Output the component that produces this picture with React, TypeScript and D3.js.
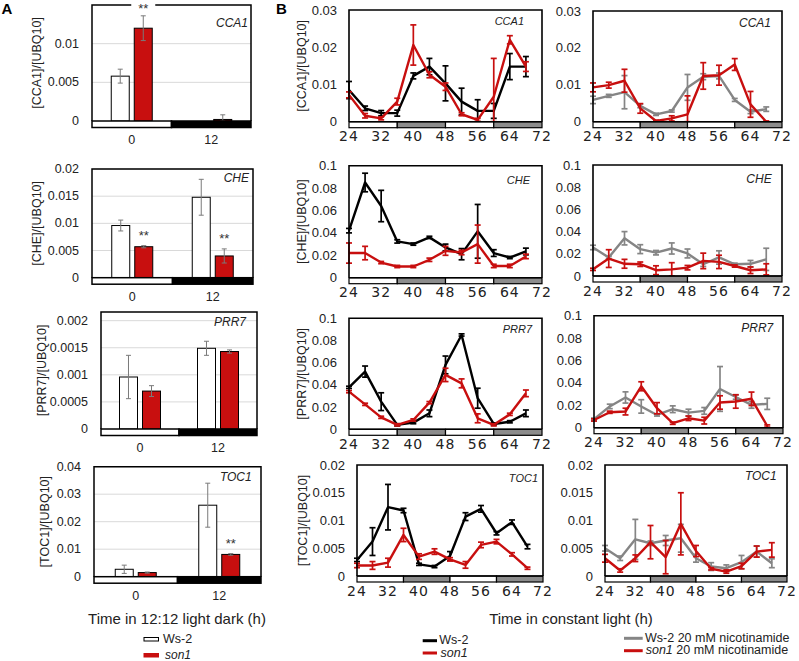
import * as d3 from "d3";

const FONT = "Liberation Sans, Arial, Helvetica, sans-serif";
const RED = "#c80f0f";
const GREY = "#858585";

// ---- panel A: 12:12 light dark, ZT0 / ZT12 ----
const ldTimes = ["0", "12"];

const cca1LdWs = [0.0058, 0.0];
const cca1LdWsErr = [0.0009, 0];
const cca1LdSon = [0.012, 0.0002];
const cca1LdSonErr = [0.0016, 0.0006];

const cheLdWs = [0.0096, 0.0148];
const cheLdWsErr = [0.001, 0.0033];
const cheLdSon = [0.0057, 0.004];
const cheLdSonErr = [0.0002, 0.0013];

const prr7LdWs = [0.00096, 0.00149];
const prr7LdWsErr = [0.0004, 0.00013];
const prr7LdSon = [0.0007, 0.00143];
const prr7LdSonErr = [0.0001, 0.00003];

const toc1LdWs = [0.0027, 0.026];
const toc1LdWsErr = [0.0015, 0.008];
const toc1LdSon = [0.0015, 0.0081];
const toc1LdSonErr = [0.0002, 0.0003];

// ** marks on son1 bars
const cca1Stars = [true, false];
const cheStars = [true, true];
const prr7Stars = [false, false];
const toc1Stars = [false, true];

const cca1LdTicks = [0, 0.005, 0.01];
const cheLdTicks = [0, 0.005, 0.01, 0.015, 0.02];
const prr7LdTicks = [0, 0.0005, 0.001, 0.0015, 0.002];
const toc1LdTicks = [0, 0.01, 0.02, 0.03, 0.04];

// ---- panel B: constant light ----
const hours = [24, 28, 32, 36, 40, 44, 48, 52, 56, 60, 64, 68];
const hourTicks = [24, 32, 40, 48, 56, 64, 72];
const llSegments = [
  { from: 24, to: 36, dark: false },
  { from: 36, to: 48, dark: true },
  { from: 48, to: 60, dark: false },
  { from: 60, to: 72, dark: true },
];

const cca1Ws = [0.0085, 0.0036, 0.0023, 0.0023, 0.0123, 0.0148, 0.0103, 0.0054, 0.0029, 0.0029, 0.0148, 0.0148];
const cca1WsErr = [0.0023, 0.0006, 0.0007, 0.0008, 0.0008, 0.0022, 0.0047, 0.0036, 0.003, 0.002, 0.0035, 0.0027];
const cca1Son = [0.0072, 0.0016, 0.0009, 0.0054, 0.0206, 0.0126, 0.0094, 0.002, 0.0005, 0.0067, 0.022, 0.0148];
const cca1SonErr = [0.0008, 0.0006, 0.0004, 0.0009, 0.0054, 0.0008, 0.001, 0.0004, 0.0004, 0.0103, 0.0011, 0.0013];
const cca1WsNam = [0.0059, 0.007, 0.008, 0.0043, 0.002, 0.0029, 0.0093, 0.0122, 0.0124, 0.0059, 0.0027, 0.0034];
const cca1WsNamErr = [0.001, 0.0004, 0.0045, 0.0005, 0.0003, 0.0003, 0.0035, 0.0008, 0.0008, 0.0004, 0.0005, 0.0006];
const cca1SonNam = [0.0093, 0.0099, 0.0111, 0.0036, 0.0002, 0.0009, 0.002, 0.0124, 0.0126, 0.0155, 0.0047, 0.0];
const cca1SonNamErr = [0.0012, 0.0008, 0.0031, 0.0013, 0.0002, 0.0007, 0.005, 0.0036, 0.0027, 0.0016, 0.0035, 0.0002];

const cheWs = [0.042, 0.085, 0.064, 0.0324, 0.03, 0.036, 0.027, 0.021, 0.0414, 0.022, 0.018, 0.0234];
const cheWsErr = [0.002, 0.0083, 0.014, 0.0015, 0.001, 0.001, 0.003, 0.005, 0.024, 0.003, 0.001, 0.003];
const cheSon = [0.022, 0.022, 0.0135, 0.01, 0.01, 0.016, 0.024, 0.0225, 0.03, 0.0105, 0.0105, 0.019];
const cheSonErr = [0.009, 0.006, 0.001, 0.001, 0.001, 0.0015, 0.004, 0.002, 0.017, 0.0015, 0.0015, 0.002];
const cheWsNam = [0.0257, 0.0167, 0.034, 0.0242, 0.021, 0.0248, 0.0203, 0.0106, 0.0167, 0.0106, 0.011, 0.015];
const cheWsNamErr = [0.002, 0.001, 0.006, 0.004, 0.002, 0.005, 0.004, 0.002, 0.006, 0.001, 0.003, 0.01];
const cheSonNam = [0.006, 0.0157, 0.011, 0.0106, 0.0052, 0.006, 0.0075, 0.0136, 0.0127, 0.009, 0.0052, 0.006];
const cheSonNamErr = [0.001, 0.008, 0.004, 0.002, 0.004, 0.006, 0.002, 0.007, 0.006, 0.001, 0.003, 0.005];

const prr7Ws = [0.0378, 0.052, 0.0249, 0.004, 0.006, 0.0144, 0.058, 0.085, 0.028, 0.0048, 0.0068, 0.0144];
const prr7WsErr = [0.001, 0.005, 0.008, 0.001, 0.001, 0.003, 0.008, 0.001, 0.009, 0.001, 0.001, 0.003];
const prr7Son = [0.0339, 0.0225, 0.0108, 0.004, 0.0084, 0.024, 0.049, 0.0414, 0.0099, 0.004, 0.0135, 0.0324];
const prr7SonErr = [0.001, 0.001, 0.001, 0.001, 0.001, 0.001, 0.006, 0.004, 0.004, 0.001, 0.001, 0.003];
const prr7WsNam = [0.0076, 0.019, 0.027, 0.019, 0.0114, 0.0165, 0.0135, 0.015, 0.0346, 0.0274, 0.0204, 0.0213];
const prr7WsNamErr = [0.001, 0.002, 0.005, 0.006, 0.001, 0.003, 0.003, 0.003, 0.02, 0.002, 0.003, 0.005];
const prr7SonNam = [0.0069, 0.0138, 0.0144, 0.037, 0.0174, 0.004, 0.0084, 0.0063, 0.0225, 0.0234, 0.0258, 0.0015];
const prr7SonNamErr = [0.001, 0.001, 0.003, 0.004, 0.005, 0.001, 0.002, 0.003, 0.006, 0.006, 0.006, 0.001];

const toc1Ws = [0.0029, 0.0062, 0.0124, 0.0118, 0.0021, 0.0017, 0.0036, 0.0107, 0.0121, 0.0077, 0.0097, 0.0053];
const toc1WsErr = [0.0003, 0.0025, 0.0041, 0.0004, 0.0002, 0.0002, 0.0008, 0.0007, 0.0006, 0.0003, 0.0004, 0.0004];
const toc1Son = [0.0019, 0.0019, 0.0024, 0.0074, 0.0035, 0.0044, 0.003, 0.002, 0.0056, 0.0062, 0.0039, 0.0014];
const toc1SonErr = [0.0004, 0.0007, 0.0008, 0.0012, 0.0005, 0.0005, 0.0003, 0.0006, 0.0005, 0.0004, 0.0003, 0.0002];
const toc1WsNam = [0.005, 0.0032, 0.0066, 0.0059, 0.0064, 0.0068, 0.0032, 0.0017, 0.0014, 0.0025, 0.0044, 0.0023];
const toc1WsNamErr = [0.0005, 0.0004, 0.0036, 0.0004, 0.0009, 0.0025, 0.0007, 0.0007, 0.0006, 0.0012, 0.001, 0.0008];
const toc1SonNam = [0.0032, 0.001, 0.0032, 0.0061, 0.0034, 0.0094, 0.0045, 0.0013, 0.0008, 0.0018, 0.0044, 0.0047];
const toc1SonNamErr = [0.0007, 0.0003, 0.0006, 0.003, 0.003, 0.0056, 0.001, 0.0002, 0.0003, 0.0005, 0.001, 0.0013];

const cca1LlTicks = [0, 0.01, 0.02, 0.03];
const wideLlTicks = [0, 0.02, 0.04, 0.06, 0.08, 0.1];
const toc1LlTicks = [0, 0.005, 0.01, 0.015, 0.02];

// panel tables (data + where each panel sits)
const barPanels = [
  { gene: "CCA1", ws: cca1LdWs, wsErr: cca1LdWsErr, son: cca1LdSon, sonErr: cca1LdSonErr, stars: cca1Stars, ticks: cca1LdTicks, max: 0.015,
    left: 92, right: 251, top: 5, zero: 121, titleX: 37, labelX: 248, labelY: 23, starTop: true },
  { gene: "CHE", ws: cheLdWs, wsErr: cheLdWsErr, son: cheLdSon, sonErr: cheLdSonErr, stars: cheStars, ticks: cheLdTicks, max: 0.02,
    left: 92, right: 253, top: 169, zero: 277.7, titleX: 37, labelX: 249, labelY: 178 },
  { gene: "PRR7", ws: prr7LdWs, wsErr: prr7LdWsErr, son: prr7LdSon, sonErr: prr7LdSonErr, stars: prr7Stars, ticks: prr7LdTicks, max: 0.00216,
    left: 101, right: 257, top: 312, zero: 429, titleX: 42, labelX: 246, labelY: 321.7 },
  { gene: "TOC1", ws: toc1LdWs, wsErr: toc1LdWsErr, son: toc1LdSon, sonErr: toc1LdSonErr, stars: toc1Stars, ticks: toc1LdTicks, max: 0.04,
    left: 94, right: 261, top: 466.7, zero: 576.7, titleX: 45, labelX: 251.7, labelY: 476.7 },
];

const linePanels = [
  { gene: "CCA1", ticks: cca1LlTicks, max: 0.03, left: 349, right: 542, top: 10, zero: 121.7, titleX: 301.7, labelX: 524, labelY: 21, small: true,
    series: [{ v: cca1Ws, e: cca1WsErr, c: "#000" }, { v: cca1Son, e: cca1SonErr, c: RED }] },
  { gene: "CHE", ticks: wideLlTicks, max: 0.1, left: 349, right: 542, top: 165.7, zero: 277.7, titleX: 301.7, labelX: 530, labelY: 180, small: true,
    series: [{ v: cheWs, e: cheWsErr, c: "#000" }, { v: cheSon, e: cheSonErr, c: RED }] },
  { gene: "PRR7", ticks: wideLlTicks, max: 0.1, left: 349, right: 542, top: 318.3, zero: 429.3, titleX: 301.7, labelX: 532, labelY: 329, small: true,
    series: [{ v: prr7Ws, e: prr7WsErr, c: "#000" }, { v: prr7Son, e: prr7SonErr, c: RED }] },
  { gene: "TOC1", ticks: toc1LlTicks, max: 0.02, left: 357, right: 543, top: 465, zero: 576, titleX: 303, labelX: 538, labelY: 477.5, small: true,
    series: [{ v: toc1Ws, e: toc1WsErr, c: "#000" }, { v: toc1Son, e: toc1SonErr, c: RED }] },
  { gene: "CCA1", ticks: cca1LlTicks, max: 0.03, left: 593, right: 782, top: 11, zero: 121.7, labelX: 771, labelY: 23.3,
    series: [{ v: cca1WsNam, e: cca1WsNamErr, c: GREY }, { v: cca1SonNam, e: cca1SonNamErr, c: RED }] },
  { gene: "CHE", ticks: wideLlTicks, max: 0.1, left: 593, right: 782, top: 165, zero: 276, labelX: 771.7, labelY: 179.3,
    series: [{ v: cheWsNam, e: cheWsNamErr, c: GREY }, { v: cheSonNam, e: cheSonNamErr, c: RED }] },
  { gene: "PRR7", ticks: wideLlTicks, max: 0.1, left: 594, right: 783, top: 315.7, zero: 427.7, labelX: 773.3, labelY: 328.3,
    series: [{ v: prr7WsNam, e: prr7WsNamErr, c: GREY }, { v: prr7SonNam, e: prr7SonNamErr, c: RED }] },
  { gene: "TOC1", ticks: toc1LlTicks, max: 0.02, left: 605, right: 787, top: 465, zero: 576, labelX: 776.7, labelY: 476,
    series: [{ v: toc1WsNam, e: toc1WsNamErr, c: GREY }, { v: toc1SonNam, e: toc1SonNamErr, c: RED }] },
];

function BarPanel({ p }: { p: any }) {
  const y = d3.scaleLinear().domain([0, p.max]).range([p.zero, p.top]);
  const x = d3.scaleBand().domain(ldTimes).range([p.left, p.right]);
  const inner = d3.scaleBand().domain(["ws", "son"]).range([-20.5, 20.5]).paddingInner(0.2174);
  const center = (c: string) => (x(c) as number) + x.bandwidth() / 2;
  const series = [
    { key: "ws", vals: p.ws, errs: p.wsErr, fill: "#fff" },
    { key: "son", vals: p.son, errs: p.sonErr, fill: RED },
  ];
  const mid = p.left + x.bandwidth();
  const ldH = 6.5;
  return (
    <g>
      {p.ticks.filter((t: number) => t > 0).map((t: number) => (
        <line key={t} x1={p.left} x2={p.right} y1={y(t)} y2={y(t)} stroke="#d9d9d9" strokeWidth={1} />
      ))}
      {series.map((s) =>
        ldTimes.map((c, i) => {
          const bx = center(c) + (inner(s.key) as number);
          const v = s.vals[i];
          const e = s.errs[i];
          const ex = bx + inner.bandwidth() / 2;
          return (
            <g key={s.key + c}>
              {v > 0 && (
                <rect x={bx} y={y(v)} width={inner.bandwidth()} height={p.zero - y(v)} fill={s.fill} stroke="#000" strokeWidth={1} />
              )}
              {e > 0 && (
                <g stroke="#7a7a7a" strokeWidth={1}>
                  <line x1={ex} x2={ex} y1={y(v + e)} y2={y(Math.max(0, v - e))} />
                  <line x1={ex - 2.5} x2={ex + 2.5} y1={y(v + e)} y2={y(v + e)} />
                  <line x1={ex - 2.5} x2={ex + 2.5} y1={y(Math.max(0, v - e))} y2={y(Math.max(0, v - e))} />
                </g>
              )}
            </g>
          );
        })
      )}
      <path d={`M${p.left},${p.zero}V${p.top}H${p.right}V${p.zero}`} fill="none" stroke="#000" strokeWidth={1.5} />
      <rect x={p.left} y={p.zero} width={mid - p.left} height={ldH} fill="#fff" stroke="#000" strokeWidth={1.5} />
      <rect x={mid} y={p.zero} width={p.right - mid} height={ldH} fill="#000" stroke="#000" strokeWidth={1.5} />
      {p.ticks.map((t: number) => (
        <text key={t} x={p.left - 13} y={y(t)} textAnchor="end" dominantBaseline="central" fontSize={12.5} fontFamily={FONT} fill="#222">
          {String(t)}
        </text>
      ))}
      {ldTimes.map((c) => (
        <text key={c} x={center(c)} y={p.zero + 19} textAnchor="middle" dominantBaseline="central" fontSize={12.5} fontFamily={FONT} fill="#222">
          {c}
        </text>
      ))}
      <text transform={`translate(${p.titleX},${(p.top + p.zero) / 2}) rotate(-90)`} textAnchor="middle" dominantBaseline="central" fontSize={12.5} fontFamily={FONT} fill="#222">
        {`[${p.gene}]/[UBQ10]`}
      </text>
      <text x={p.labelX} y={p.labelY} textAnchor="end" dominantBaseline="central" fontSize={12} fontStyle="italic" fontFamily={FONT} fill="#222">
        {p.gene}
      </text>
      {ldTimes.map((c, i) => {
        if (!p.stars[i]) return null;
        const sx = center(c) + (inner("son") as number) + inner.bandwidth() / 2;
        const sy = p.starTop ? p.top + 3 : y(p.son[i] + p.sonErr[i]) - 10;
        return (
          <g key={"s" + c}>
            {p.starTop && <rect x={sx - 12} y={p.top - 3} width={24} height={6} fill="#fff" />}
            <text x={sx} y={sy} textAnchor="middle" dominantBaseline="central" fontSize={13} fontFamily={FONT} fill="#333">
              **
            </text>
          </g>
        );
      })}
    </g>
  );
}

function LinePanel({ p }: { p: any }) {
  const x = d3.scaleLinear().domain([24, 72]).range([p.left, p.right]);
  const y = d3.scaleLinear().domain([0, p.max]).range([p.zero, p.top]);
  const line = d3
    .line<number>()
    .x((_, i) => x(hours[i]))
    .y((v) => y(v));
  const ldH = 6;
  return (
    <g>
      {p.series.map((s: any, si: number) => (
        <g key={si}>
          <path d={line(s.v) as string} fill="none" stroke={s.c} strokeWidth={2.4} strokeLinejoin="round" />
          {s.v.map((v: number, i: number) => {
            const e = s.e[i];
            const cx = x(hours[i]);
            const y1 = y(v + e);
            const y2 = y(Math.max(0, v - e));
            return (
              <g key={i} stroke={s.c} strokeWidth={1.7}>
                <line x1={cx} x2={cx} y1={y1} y2={y2} />
                <line x1={cx - 3} x2={cx + 3} y1={y1} y2={y1} />
                <line x1={cx - 3} x2={cx + 3} y1={y2} y2={y2} />
              </g>
            );
          })}
        </g>
      ))}
      <path d={`M${p.left},${p.zero}V${p.top}H${p.right}V${p.zero}`} fill="none" stroke="#000" strokeWidth={1.6} />
      {llSegments.map((sg) => (
        <rect key={sg.from} x={x(sg.from)} y={p.zero} width={x(sg.to) - x(sg.from)} height={ldH}
          fill={sg.dark ? "#8c8c8c" : "#fff"} stroke="#000" strokeWidth={1.2} />
      ))}
      <line x1={p.left} x2={p.right} y1={p.zero} y2={p.zero} stroke="#000" strokeWidth={1.6} />
      {p.ticks.map((t: number) => (
        <text key={t} x={p.left - 12} y={y(t)} textAnchor="end" dominantBaseline="central" fontSize={13} fontFamily={FONT} fill="#222">
          {String(t)}
        </text>
      ))}
      {hourTicks.map((h) => (
        <text key={h} x={x(h)} y={p.zero + 14.5} textAnchor="middle" dominantBaseline="central" fontSize={14}
          fontFamily="DejaVu Sans, Verdana, sans-serif" letterSpacing={1} fill="#222">
          {h}
        </text>
      ))}
      {p.titleX !== undefined && (
        <text transform={`translate(${p.titleX},${(p.top + p.zero) / 2}) rotate(-90)`} textAnchor="middle" dominantBaseline="central" fontSize={12.5} fontFamily={FONT} fill="#222">
          {`[${p.gene}]/[UBQ10]`}
        </text>
      )}
      <text x={p.labelX} y={p.labelY} textAnchor="end" dominantBaseline="central" fontSize={p.small ? 11 : 12} fontStyle="italic" fontFamily={FONT} fill="#222">
        {p.gene}
      </text>
    </g>
  );
}

export default function App() {
  const txt = { fontFamily: FONT, fill: "#222" };
  return (
    <div style={{ position: "absolute", left: 0, top: 0 }}>
      <svg width={799} height={661} viewBox="0 0 799 661" style={{ display: "block", background: "#fff" }}>
        <rect width={799} height={661} fill="#fff" />
        <text x={1.5} y={13.5} fontSize={15} fontWeight="bold" {...txt} fill="#000">A</text>
        <text x={276} y={13.5} fontSize={15} fontWeight="bold" {...txt} fill="#000">B</text>
        {barPanels.map((p) => (
          <BarPanel key={p.gene} p={p} />
        ))}
        {linePanels.map((p, i) => (
          <LinePanel key={i} p={p} />
        ))}
        <text x={177} y={618} textAnchor="middle" dominantBaseline="central" fontSize={15} {...txt}>
          Time in 12:12 light dark (h)
        </text>
        <text x={571} y={618} textAnchor="middle" dominantBaseline="central" fontSize={15} {...txt}>
          Time in constant light (h)
        </text>
        {/* legend A */}
        <rect x={144} y={637.5} width={14.5} height={3.5} fill="#fff" stroke="#000" strokeWidth={1} />
        <text x={163} y={639} dominantBaseline="central" fontSize={12.5} {...txt}>Ws-2</text>
        <rect x={144} y={653.5} width={14.5} height={3.5} fill={RED} stroke={RED} strokeWidth={1} />
        <text x={165} y={654.5} dominantBaseline="central" fontSize={12} fontStyle="italic" {...txt}>son1</text>
        {/* legend B */}
        <line x1={422.7} x2={437} y1={640.7} y2={640.7} stroke="#000" strokeWidth={3} />
        <text x={439.3} y={639.5} dominantBaseline="central" fontSize={12.5} {...txt}>Ws-2</text>
        <line x1={422.7} x2={437} y1={653} y2={653} stroke={RED} strokeWidth={3} />
        <text x={440.5} y={652.7} dominantBaseline="central" fontSize={12.5} fontStyle="italic" {...txt}>son1</text>
        {/* legend C */}
        <line x1={624} x2={642.7} y1={638.3} y2={638.3} stroke={GREY} strokeWidth={3} />
        <text x={645} y={637.5} dominantBaseline="central" fontSize={12.5} {...txt}>Ws-2 20 mM nicotinamide</text>
        <line x1={624} x2={642.7} y1={650.7} y2={650.7} stroke={RED} strokeWidth={3} />
        <text x={645.7} y={650} dominantBaseline="central" fontSize={12.5} {...txt}>
          <tspan fontStyle="italic">son1</tspan> 20 mM nicotinamide
        </text>
      </svg>
    </div>
  );
}
